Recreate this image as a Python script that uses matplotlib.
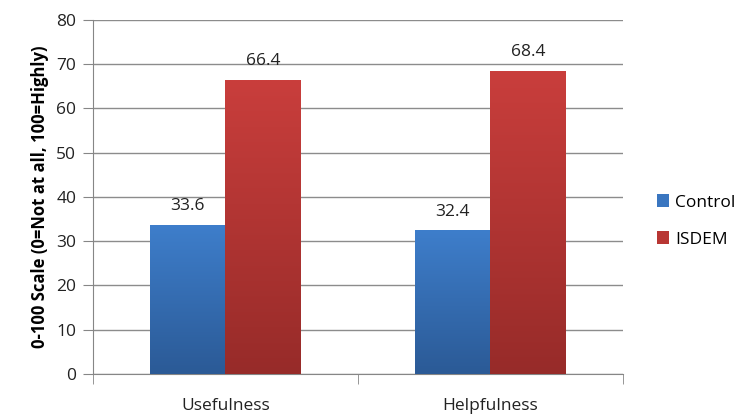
import numpy as np
import matplotlib.pyplot as plt
from matplotlib.colors import LinearSegmentedColormap

categories = ["Usefulness", "Helpfulness"]
control = [33.6, 32.4]
isdem = [66.4, 68.4]
series_names = ["Control", "ISDEM"]

plt.rcParams["font.family"] = ["Open Sans", "DejaVu Sans"]

fig = plt.figure(figsize=(7.42, 4.17), dpi=100)
ax = fig.add_axes([0.1253, 0.1031, 0.714, 0.849])

x = np.arange(len(categories))
w = 0.285
b1 = ax.bar(x - w / 2, control, w, color="#3a76c0", label=series_names[0], zorder=3)
b2 = ax.bar(x + w / 2, isdem, w, color="#b83633", label=series_names[1], zorder=3)

# vertical gradient on each bar (lighter at top, darker at bottom)
grad = np.linspace(0, 1, 256).reshape(-1, 1)
cmaps = {
    id(b1): LinearSegmentedColormap.from_list("b", ["#2b5a96", "#3e7ecb"]),
    id(b2): LinearSegmentedColormap.from_list("r", ["#972b29", "#c93e3c"]),
}
for bars in (b1, b2):
    for p in bars:
        x0, y0 = p.get_x(), p.get_y()
        ww, hh = p.get_width(), p.get_height()
        ax.imshow(grad, extent=(x0, x0 + ww, y0, y0 + hh), origin="lower",
                  cmap=cmaps[id(bars)], aspect="auto", zorder=4)
        ax.text(x0 + ww / 2, hh + 2.5, f"{hh:.1f}", ha="center", va="bottom",
                fontsize=12.5, color="#222222", zorder=5)

ax.set_xlim(-0.5, 1.5)
ax.set_ylim(0, 80)
ax.set_yticks(range(0, 81, 10))
ax.yaxis.grid(True, color="#8c8c8c", lw=1, zorder=0)
ax.set_xticks(x)
ax.set_xticklabels(categories)
ax.set_xticks([-0.5, 0.5, 1.5], minor=True)
ax.tick_params(axis="x", which="major", length=0, labelsize=12.5, pad=17, colors="#222222")
ax.tick_params(axis="x", which="minor", length=7, color="#868686")
ax.tick_params(axis="y", length=7, color="#868686", labelsize=12.5, labelcolor="#222222", pad=5)

for s in ("top", "right"):
    ax.spines[s].set_visible(False)
for s in ("left", "bottom"):
    ax.spines[s].set_color("#868686")

ax.set_ylabel("0-100 Scale (0=Not at all, 100=Highly)", fontsize=12,
              fontweight="bold", labelpad=5)

fig.legend(handles=[b1, b2], loc="center left", bbox_to_anchor=(0.864, 0.47),
           frameon=False, fontsize=12.5, handlelength=0.7, handleheight=0.7,
           handletextpad=0.35, labelspacing=1.2)

fig.savefig("out.png", dpi=100)
